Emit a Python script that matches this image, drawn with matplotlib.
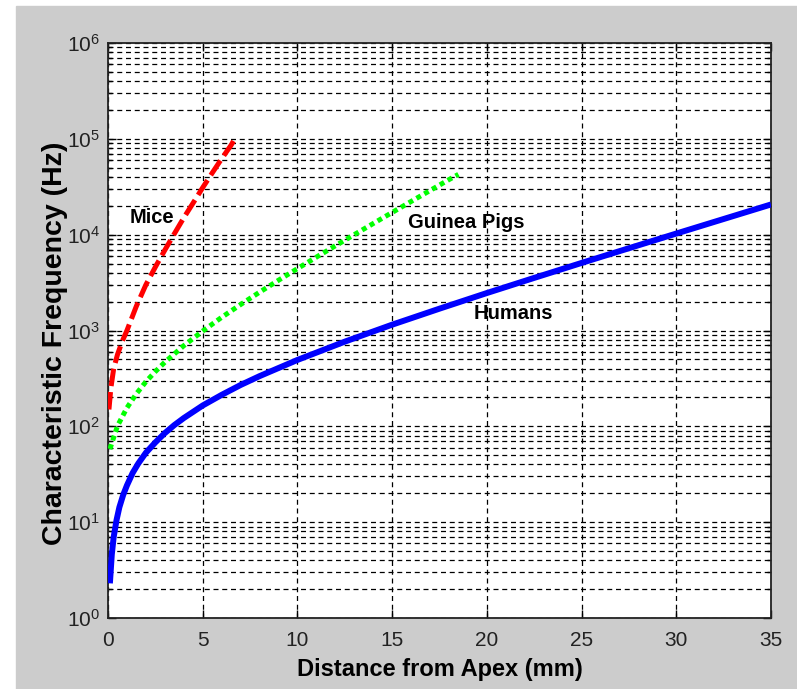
import matplotlib
matplotlib.use("Agg")
import matplotlib.pyplot as plt
from matplotlib.patches import Rectangle
from matplotlib.ticker import FixedLocator, LogLocator, NullFormatter

# values
humans_x = [0.1, 0.2, 0.3, 0.45, 0.6, 0.8, 1.0, 1.3, 1.6, 2.0, 2.5, 3.0, 3.5, 4.0,
            5.0, 6.0, 7.0, 8.0, 10.0, 12.5, 15.0, 17.5, 20.0, 22.5, 25.0, 27.5,
            30.0, 32.5, 35.0]
humans_f = [2.3, 4.6, 7.0, 10.5, 14.3, 19.2, 24.2, 32.6, 41, 53, 68, 85, 103, 122,
            165, 213, 270, 334, 493, 765, 1150, 1690, 2460, 3540, 5070, 7220,
            10270, 14570, 20660]

gpig_x = [0.1, 0.5, 1, 1.5, 2, 2.5, 3, 4, 5, 6, 7, 8, 9, 10, 11, 12, 13, 14, 15,
          16, 17, 18, 18.5]
gpig_f = [58, 101, 156, 219, 292, 373, 467, 694, 987, 1372, 1866, 2510, 3343, 4424,
          5828, 7650, 10006, 13070, 17045, 22200, 28880, 37540, 42600]

mice_x = [0.05, 0.15, 0.3, 0.5, 0.75, 1.0, 1.5, 2.0, 2.5, 3.0, 3.5, 4.0, 4.5, 5.0,
          5.5, 6.0, 6.5, 6.75]
mice_f = [150, 250, 400, 560, 770, 1000, 1800, 3000, 4600, 6900, 10200, 15000,
          21500, 31000, 44000, 62000, 86000, 105000]

x_ticks = [0, 5, 10, 15, 20, 25, 30, 35]
y_ticks = [1e0, 1e1, 1e2, 1e3, 1e4, 1e5, 1e6]
y_labels = [r"$\mathregular{10^{%d}}$" % i for i in range(7)]

plt.rcParams["font.family"] = ["Liberation Sans", "DejaVu Sans"]

fig = plt.figure(figsize=(7.97, 6.89), dpi=100, facecolor="white")
fig.patches.append(Rectangle((16 / 797, 0), 1, (689 - 6) / 689,
                             transform=fig.transFigure, color="#cccccc", zorder=-5))

ax = fig.add_axes([108 / 797, 71 / 689, 663 / 797, 575 / 689])
ax.set_zorder(1)
ax.set_facecolor("white")

ax.plot(humans_x, humans_f, color="#0000ff", lw=4.3, solid_capstyle="butt", zorder=3)
ax.plot(gpig_x, gpig_f, color="#00ff00", lw=3.6, linestyle=(0, (1, 0.8)),
        dash_capstyle="butt", zorder=3)
ax.plot(mice_x, mice_f, color="#ff0000", lw=3.6, linestyle=(0, (3.5, 1.2)),
        dash_capstyle="butt", zorder=3)

ax.set_yscale("log")
ax.set_xlim(0, 35)
ax.set_ylim(1, 1e6)

ax.xaxis.set_major_locator(FixedLocator(x_ticks))
ax.set_xticklabels([str(t) for t in x_ticks])
ax.yaxis.set_major_locator(FixedLocator(y_ticks))
ax.set_yticklabels(y_labels)
ax.yaxis.set_minor_locator(LogLocator(base=10, subs=range(2, 10), numticks=20))
ax.yaxis.set_minor_formatter(NullFormatter())

ax.tick_params(which="both", direction="in", top=True, right=True, colors="black",
               labelsize=15, width=1)
ax.tick_params(which="major", length=6)
ax.tick_params(which="minor", length=3)
ax.tick_params(axis="x", pad=9)
ax.tick_params(axis="y", pad=6)
for lab in ax.get_xticklabels() + ax.get_yticklabels():
    lab.set_color("#222222")

ax.grid(True, which="major", axis="x", color="black", lw=0.9, linestyle=(0, (4, 3)))
ax.grid(True, which="both", axis="y", color="black", lw=0.9, linestyle=(0, (4, 3)))
ax.set_axisbelow(True)
for s in ax.spines.values():
    s.set_linewidth(1.3)
    s.set_color("#222222")

ax.set_xlabel("Distance from Apex (mm)", fontsize=17, fontweight="bold", labelpad=6)
ax.set_ylabel("Characteristic Frequency (Hz)", fontsize=20.5, fontweight="bold")
ax.yaxis.set_label_coords(-0.060, 0.478)

ax.text(1.15, 1.5e4, "Mice", fontsize=14.5, fontweight="bold", va="center", ha="left")
ax.text(15.85, 1.33e4, "Guinea Pigs", fontsize=14.5, fontweight="bold", va="center",
        ha="left")
ax.text(19.3, 1.52e3, "Humans", fontsize=14.5, fontweight="bold", va="center",
        ha="left")

fig.savefig("out.png", dpi=100, facecolor=fig.get_facecolor())
